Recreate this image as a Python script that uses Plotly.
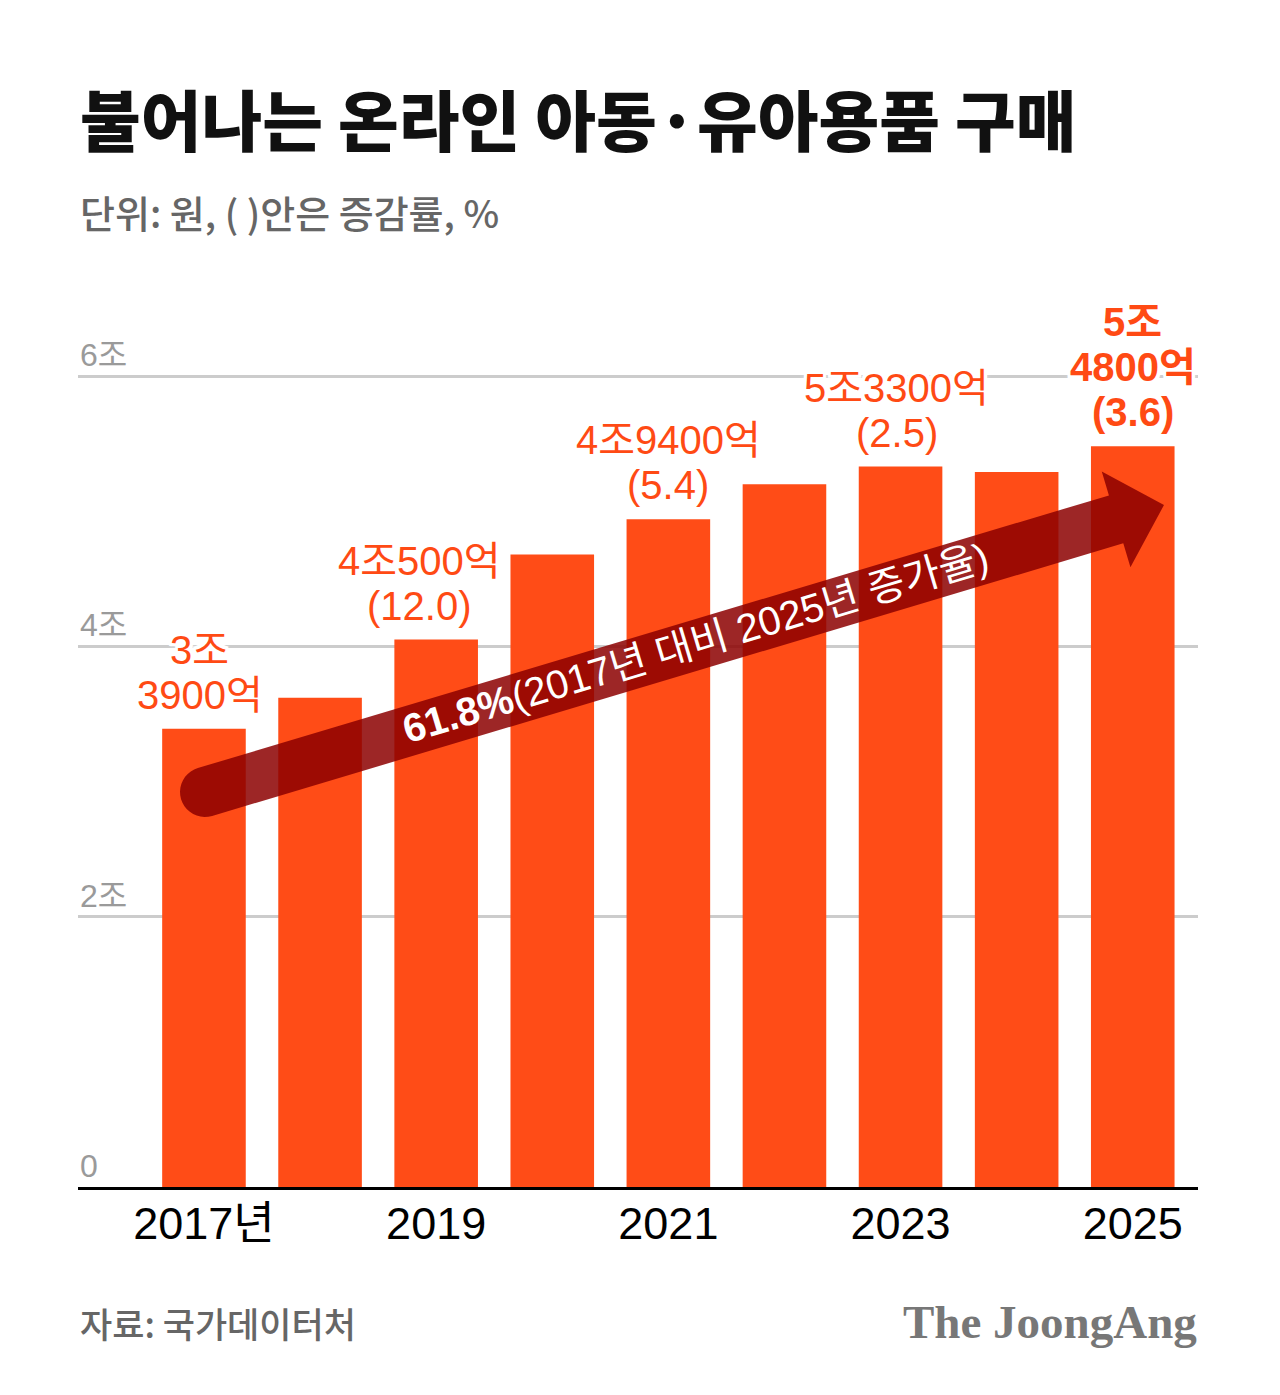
import math
import plotly.graph_objects as go

# data (unit: 조 원)
years = [2017, 2018, 2019, 2020, 2021, 2022, 2023, 2024, 2025]
sales = [3.39, 3.62, 4.05, 4.68, 4.94, 5.20, 5.33, 5.29, 5.48]
label_years = [2017, 2019, 2021, 2023, 2025]
label_lines = [["3조", "3900억"], ["4조500억", "(12.0)"], ["4조9400억", "(5.4)"],
               ["5조3300억", "(2.5)"], ["5조", "4800억", "(3.6)"]]
label_xshift = [-4, -17, 0, -4, 0]
tick_years = [2017, 2019, 2021, 2023, 2025]
tick_text = ["2017년", "2019", "2021", "2023", "2025"]
y_ticks = [0, 2, 4, 6]
y_tick_text = ["0", "2조", "4조", "6조"]

BAR = "#FF4C17"
OFF = 8  # page body margin
W, H = 1280 - OFF, 1395 - OFF
L, R, T, B = 78 - OFF, 82, 349 - OFF, 208
PW, PH = W - L - R, H - T - B
XR = [2015.915, 2025.562]
YR = [0, 6.2]


# screen pixel -> data / paper helpers for decorations
def dx(px):
    return XR[0] + (px - OFF - L) / PW * (XR[1] - XR[0])


def dy(py):
    return YR[0] + (H - B - (py - OFF)) / PH * (YR[1] - YR[0])


def px_(px):
    return (px - OFF - L) / PW


def py_(py):
    return (H - B - (py - OFF)) / PH


fig = go.Figure()
fig.add_trace(go.Bar(x=years, y=sales, width=0.72, marker=dict(color=BAR, line=dict(width=0)),
                     hoverinfo="skip"))

# value labels with white halo
halo = ", ".join(f"{a}px {b}px 0 #fff" for a in (-3, 0, 3) for b in (-3, 0, 3)) + ", 0 0 7px #fff"
for yr, lines, xs in zip(label_years, label_lines, label_xshift):
    v = sales[years.index(yr)]
    bold = yr == 2025
    for k, line in enumerate(reversed(lines)):
        fig.add_annotation(x=yr, y=v, text=f"<b>{line}</b>" if bold else line, showarrow=False,
                           yanchor="middle", yshift=34 + 45 * k, xshift=xs,
                           font=dict(family="Liberation Sans, Noto Sans CJK KR", size=40,
                                     color="#FF4A14", shadow=halo))

# y tick labels
for v, t in zip(y_ticks, y_tick_text):
    fig.add_annotation(xref="paper", x=0, y=v, text=t, showarrow=False, xanchor="left",
                       yanchor="bottom", yshift=1,
                       font=dict(family="Liberation Sans, Noto Sans CJK KR", size=32, color="#9A9A9A"))

# growth arrow
S = (205.0, 792.0)
Tip = (1164.0, 505.0)
ln = math.hypot(Tip[0] - S[0], Tip[1] - S[1])
u = ((Tip[0] - S[0]) / ln, (Tip[1] - S[1]) / ln)
n = (-u[1], u[0])
w, hl, hw = 25, 50, 50
Bs = (Tip[0] - hl * u[0], Tip[1] - hl * u[1])
pts = [
    (S[0] - w * n[0], S[1] - w * n[1]),
    (Bs[0] - w * n[0], Bs[1] - w * n[1]),
    (Bs[0] - hw * n[0], Bs[1] - hw * n[1]),
    Tip,
    (Bs[0] + hw * n[0], Bs[1] + hw * n[1]),
    (Bs[0] + w * n[0], Bs[1] + w * n[1]),
]
for k in range(0, 21):
    phi = math.pi * k / 20
    pts.append((S[0] + w * (n[0] * math.cos(phi) - u[0] * math.sin(phi)),
                S[1] + w * (n[1] * math.cos(phi) - u[1] * math.sin(phi))))
path = "M " + " L ".join(f"{dx(p[0]):.4f},{dy(p[1]):.4f}" for p in pts) + " Z"
fig.add_shape(type="path", path=path, xref="x", yref="y", fillcolor="rgba(140,0,0,0.85)",
              line=dict(width=0), layer="above")

angle = -math.degrees(math.atan2(S[1] - Tip[1], Tip[0] - S[0]))
fig.add_annotation(x=dx(695), y=dy(643), text="<b>61.8%</b>(2017년 대비 2025년 증가율)",
                   textangle=angle, showarrow=False,
                   font=dict(family="Liberation Sans, Noto Sans CJK KR", size=40, color="white"))

# title, subtitle, footer
fig.add_annotation(xref="paper", yref="paper", x=px_(78), y=py_(117),
                   text="불어나는 온라인 아동·유아용품 구매", showarrow=False, xanchor="left",
                   yanchor="middle",
                   font=dict(family="Noto Sans CJK KR", size=66, color="#111", weight=900))
fig.add_annotation(xref="paper", yref="paper", x=px_(78), y=py_(211),
                   text="단위: 원, ( )안은 증감률, %", showarrow=False, xanchor="left",
                   yanchor="middle",
                   font=dict(family="Noto Sans CJK KR", size=38, color="#666", weight=500))
fig.add_annotation(xref="paper", yref="paper", x=px_(78), y=py_(1322),
                   text="자료: 국가데이터처", showarrow=False, xanchor="left", yanchor="middle",
                   font=dict(family="Noto Sans CJK KR", size=35, color="#666", weight=500))
fig.add_annotation(xref="paper", yref="paper", x=px_(1199), y=py_(1322),
                   text="<b>The JoongAng</b>", showarrow=False, xanchor="right", yanchor="middle",
                   font=dict(family="Liberation Serif, DejaVu Serif", size=47, color="#777"))

fig.update_layout(
    width=W, height=H, margin=dict(l=L, r=R, t=T, b=B),
    paper_bgcolor="white", plot_bgcolor="white", showlegend=False,
    xaxis=dict(range=XR, tickvals=tick_years, ticktext=tick_text, showgrid=False,
               showline=True, linecolor="black", linewidth=3, ticks="", ticklabelstandoff=-5,
               tickfont=dict(family="Liberation Sans, Noto Sans CJK KR", size=45, color="black"),
               fixedrange=True),
    yaxis=dict(range=YR, tickvals=[2, 4, 6], showticklabels=False, showgrid=True,
               gridcolor="#CCCCCC", gridwidth=2.5, zeroline=False, fixedrange=True),
)

fig.write_html("out.html")
